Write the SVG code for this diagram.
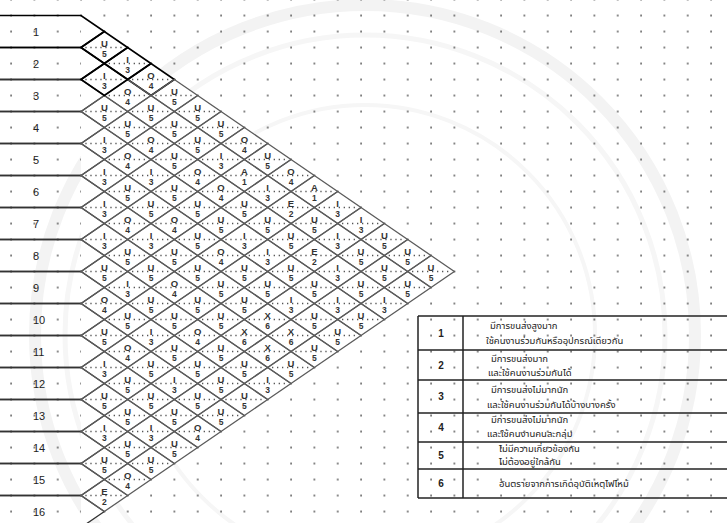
<svg xmlns="http://www.w3.org/2000/svg" xmlns:xlink="http://www.w3.org/1999/xlink" width="727" height="523" viewBox="0 0 727 523">
<style>
.row path{fill:none;stroke:#333;stroke-width:1.3}
.row.dk path{stroke:#000;stroke-width:1.7}
.row text{font-family:"Liberation Sans",Arial,sans-serif;font-size:11px;fill:#222}
.c use{stroke:#5c5c5c;stroke-width:1.3}
.c.dk use{stroke:#000;stroke-width:1.7}
.c text{font-family:"Liberation Sans",Arial,sans-serif;font-weight:bold;text-anchor:middle;fill:#333}
.c .l{font-size:9.5px}
.c .n{font-size:8.5px}
.lg line{stroke:#222;stroke-width:1.5}
.lg .num{font-family:"Liberation Sans",Arial,sans-serif;font-size:10px;font-weight:bold;text-anchor:middle;fill:#222}
.lg .th{font-family:"Noto Sans Thai","Noto Sans",sans-serif;font-size:9.5px;fill:#222}
</style>
<defs>
<pattern id="dots" x="69.333" y="7.5" width="23.333" height="16" patternUnits="userSpaceOnUse">
<rect x="11" y="7.3" width="1.5" height="1.5" fill="#333"/>
</pattern>
<g id="d">
<polygon points="-23.333,0 0,-16 23.333,0 0,16" fill="none"/>
<line x1="-19" y1="0" x2="19" y2="0" stroke="#555" stroke-width="1.3" stroke-dasharray="1.3 3.7"/>
</g>
</defs>
<rect width="727" height="523" fill="#fff"/>
<g id="watermark" fill="none">
<circle cx="365" cy="335" r="330" stroke="#f3f3f3" stroke-width="12"/>
<circle cx="365" cy="335" r="300" stroke="#f6f6f6" stroke-width="5"/>
<circle cx="365" cy="335" r="230" stroke="#f6f6f6" stroke-width="4"/>
</g>
<rect width="727" height="523" fill="url(#dots)"/>
<polygon points="81,15.5 454.33,271.5 81,527.5" fill="#fff"/>
<g id="rows">
<g id="r1" class="row dk"><path d="M0 15.5H81L104.33 31.5L81 47.5H0"/><text x="33" y="35.5">1</text></g>
<g id="r2" class="row dk"><path d="M0 47.5H81L104.33 63.5L81 79.5H0"/><text x="33" y="67.5">2</text></g>
<g id="r3" class="row"><path d="M0 79.5H81L104.33 95.5L81 111.5H0"/><text x="33" y="99.5">3</text></g>
<g id="r4" class="row"><path d="M0 111.5H81L104.33 127.5L81 143.5H0"/><text x="33" y="131.5">4</text></g>
<g id="r5" class="row"><path d="M0 143.5H81L104.33 159.5L81 175.5H0"/><text x="33" y="163.5">5</text></g>
<g id="r6" class="row"><path d="M0 175.5H81L104.33 191.5L81 207.5H0"/><text x="33" y="195.5">6</text></g>
<g id="r7" class="row"><path d="M0 207.5H81L104.33 223.5L81 239.5H0"/><text x="33" y="227.5">7</text></g>
<g id="r8" class="row"><path d="M0 239.5H81L104.33 255.5L81 271.5H0"/><text x="33" y="259.5">8</text></g>
<g id="r9" class="row"><path d="M0 271.5H81L104.33 287.5L81 303.5H0"/><text x="33" y="291.5">9</text></g>
<g id="r10" class="row"><path d="M0 303.5H81L104.33 319.5L81 335.5H0"/><text x="33" y="323.5">10</text></g>
<g id="r11" class="row"><path d="M0 335.5H81L104.33 351.5L81 367.5H0"/><text x="33" y="355.5">11</text></g>
<g id="r12" class="row"><path d="M0 367.5H81L104.33 383.5L81 399.5H0"/><text x="33" y="387.5">12</text></g>
<g id="r13" class="row"><path d="M0 399.5H81L104.33 415.5L81 431.5H0"/><text x="33" y="419.5">13</text></g>
<g id="r14" class="row"><path d="M0 431.5H81L104.33 447.5L81 463.5H0"/><text x="33" y="451.5">14</text></g>
<g id="r15" class="row"><path d="M0 463.5H81L104.33 479.5L81 495.5H0"/><text x="33" y="483.5">15</text></g>
<g id="r16" class="row"><path d="M0 495.5H81L104.33 511.5L81 527.5H0"/><text x="33" y="515.5">16</text></g>
</g>
<g id="cells">
<g id="c1-3" class="c dk" transform="translate(127.67 63.5)"><use xlink:href="#d"/><text class="l" y="-0.5">I</text><text class="n" y="9">3</text></g>
<g id="c1-4" class="c dk" transform="translate(151 79.5)"><use xlink:href="#d"/><text class="l" y="-0.5">O</text><text class="n" y="9">4</text></g>
<g id="c1-5" class="c" transform="translate(174.33 95.5)"><use xlink:href="#d"/><text class="l" y="-0.5">U</text><text class="n" y="9">5</text></g>
<g id="c1-6" class="c" transform="translate(197.67 111.5)"><use xlink:href="#d"/><text class="l" y="-0.5">U</text><text class="n" y="9">5</text></g>
<g id="c1-7" class="c" transform="translate(221 127.5)"><use xlink:href="#d"/><text class="l" y="-0.5">U</text><text class="n" y="9">5</text></g>
<g id="c1-8" class="c" transform="translate(244.33 143.5)"><use xlink:href="#d"/><text class="l" y="-0.5">O</text><text class="n" y="9">4</text></g>
<g id="c1-9" class="c" transform="translate(267.67 159.5)"><use xlink:href="#d"/><text class="l" y="-0.5">U</text><text class="n" y="9">5</text></g>
<g id="c1-10" class="c" transform="translate(291 175.5)"><use xlink:href="#d"/><text class="l" y="-0.5">O</text><text class="n" y="9">4</text></g>
<g id="c1-11" class="c" transform="translate(314.33 191.5)"><use xlink:href="#d"/><text class="l" y="-0.5">A</text><text class="n" y="9">1</text></g>
<g id="c1-12" class="c" transform="translate(337.67 207.5)"><use xlink:href="#d"/><text class="l" y="-0.5">I</text><text class="n" y="9">3</text></g>
<g id="c1-13" class="c" transform="translate(361 223.5)"><use xlink:href="#d"/><text class="l" y="-0.5">I</text><text class="n" y="9">3</text></g>
<g id="c1-14" class="c" transform="translate(384.33 239.5)"><use xlink:href="#d"/><text class="l" y="-0.5">U</text><text class="n" y="9">5</text></g>
<g id="c1-15" class="c" transform="translate(407.67 255.5)"><use xlink:href="#d"/><text class="l" y="-0.5">U</text><text class="n" y="9">5</text></g>
<g id="c1-16" class="c" transform="translate(431 271.5)"><use xlink:href="#d"/><text class="l" y="-0.5">U</text><text class="n" y="9">5</text></g>
<g id="c2-4" class="c" transform="translate(127.67 95.5)"><use xlink:href="#d"/><text class="l" y="-0.5">O</text><text class="n" y="9">4</text></g>
<g id="c2-5" class="c" transform="translate(151 111.5)"><use xlink:href="#d"/><text class="l" y="-0.5">U</text><text class="n" y="9">5</text></g>
<g id="c2-6" class="c" transform="translate(174.33 127.5)"><use xlink:href="#d"/><text class="l" y="-0.5">U</text><text class="n" y="9">5</text></g>
<g id="c2-7" class="c" transform="translate(197.67 143.5)"><use xlink:href="#d"/><text class="l" y="-0.5">U</text><text class="n" y="9">5</text></g>
<g id="c2-8" class="c" transform="translate(221 159.5)"><use xlink:href="#d"/><text class="l" y="-0.5">I</text><text class="n" y="9">3</text></g>
<g id="c2-9" class="c" transform="translate(244.33 175.5)"><use xlink:href="#d"/><text class="l" y="-0.5">A</text><text class="n" y="9">1</text></g>
<g id="c2-10" class="c" transform="translate(267.67 191.5)"><use xlink:href="#d"/><text class="l" y="-0.5">I</text><text class="n" y="9">3</text></g>
<g id="c2-11" class="c" transform="translate(291 207.5)"><use xlink:href="#d"/><text class="l" y="-0.5">E</text><text class="n" y="9">2</text></g>
<g id="c2-12" class="c" transform="translate(314.33 223.5)"><use xlink:href="#d"/><text class="l" y="-0.5">U</text><text class="n" y="9">5</text></g>
<g id="c2-13" class="c" transform="translate(337.67 239.5)"><use xlink:href="#d"/><text class="l" y="-0.5">I</text><text class="n" y="9">3</text></g>
<g id="c2-14" class="c" transform="translate(361 255.5)"><use xlink:href="#d"/><text class="l" y="-0.5">U</text><text class="n" y="9">5</text></g>
<g id="c2-15" class="c" transform="translate(384.33 271.5)"><use xlink:href="#d"/><text class="l" y="-0.5">U</text><text class="n" y="9">5</text></g>
<g id="c2-16" class="c" transform="translate(407.67 287.5)"><use xlink:href="#d"/><text class="l" y="-0.5">U</text><text class="n" y="9">5</text></g>
<g id="c3-4" class="c" transform="translate(104.33 111.5)"><use xlink:href="#d"/><text class="l" y="-0.5">U</text><text class="n" y="9">5</text></g>
<g id="c3-5" class="c" transform="translate(127.67 127.5)"><use xlink:href="#d"/><text class="l" y="-0.5">U</text><text class="n" y="9">5</text></g>
<g id="c3-6" class="c" transform="translate(151 143.5)"><use xlink:href="#d"/><text class="l" y="-0.5">O</text><text class="n" y="9">4</text></g>
<g id="c3-7" class="c" transform="translate(174.33 159.5)"><use xlink:href="#d"/><text class="l" y="-0.5">U</text><text class="n" y="9">5</text></g>
<g id="c3-8" class="c" transform="translate(197.67 175.5)"><use xlink:href="#d"/><text class="l" y="-0.5">O</text><text class="n" y="9">4</text></g>
<g id="c3-9" class="c" transform="translate(221 191.5)"><use xlink:href="#d"/><text class="l" y="-0.5">O</text><text class="n" y="9">4</text></g>
<g id="c3-10" class="c" transform="translate(244.33 207.5)"><use xlink:href="#d"/><text class="l" y="-0.5">U</text><text class="n" y="9">5</text></g>
<g id="c3-11" class="c" transform="translate(267.67 223.5)"><use xlink:href="#d"/><text class="l" y="-0.5">U</text><text class="n" y="9">5</text></g>
<g id="c3-12" class="c" transform="translate(291 239.5)"><use xlink:href="#d"/><text class="l" y="-0.5">U</text><text class="n" y="9">5</text></g>
<g id="c3-13" class="c" transform="translate(314.33 255.5)"><use xlink:href="#d"/><text class="l" y="-0.5">E</text><text class="n" y="9">2</text></g>
<g id="c3-14" class="c" transform="translate(337.67 271.5)"><use xlink:href="#d"/><text class="l" y="-0.5">I</text><text class="n" y="9">3</text></g>
<g id="c3-15" class="c" transform="translate(361 287.5)"><use xlink:href="#d"/><text class="l" y="-0.5">U</text><text class="n" y="9">5</text></g>
<g id="c3-16" class="c" transform="translate(384.33 303.5)"><use xlink:href="#d"/><text class="l" y="-0.5">I</text><text class="n" y="9">3</text></g>
<g id="c4-5" class="c" transform="translate(104.33 143.5)"><use xlink:href="#d"/><text class="l" y="-0.5">I</text><text class="n" y="9">3</text></g>
<g id="c4-6" class="c" transform="translate(127.67 159.5)"><use xlink:href="#d"/><text class="l" y="-0.5">O</text><text class="n" y="9">4</text></g>
<g id="c4-7" class="c" transform="translate(151 175.5)"><use xlink:href="#d"/><text class="l" y="-0.5">I</text><text class="n" y="9">3</text></g>
<g id="c4-8" class="c" transform="translate(174.33 191.5)"><use xlink:href="#d"/><text class="l" y="-0.5">U</text><text class="n" y="9">5</text></g>
<g id="c4-9" class="c" transform="translate(197.67 207.5)"><use xlink:href="#d"/><text class="l" y="-0.5">U</text><text class="n" y="9">5</text></g>
<g id="c4-10" class="c" transform="translate(221 223.5)"><use xlink:href="#d"/><text class="l" y="-0.5">U</text><text class="n" y="9">5</text></g>
<g id="c4-11" class="c" transform="translate(244.33 239.5)"><use xlink:href="#d"/><text class="l" y="-0.5">I</text><text class="n" y="9">3</text></g>
<g id="c4-12" class="c" transform="translate(267.67 255.5)"><use xlink:href="#d"/><text class="l" y="-0.5">I</text><text class="n" y="9">3</text></g>
<g id="c4-13" class="c" transform="translate(291 271.5)"><use xlink:href="#d"/><text class="l" y="-0.5">U</text><text class="n" y="9">5</text></g>
<g id="c4-14" class="c" transform="translate(314.33 287.5)"><use xlink:href="#d"/><text class="l" y="-0.5">U</text><text class="n" y="9">5</text></g>
<g id="c4-15" class="c" transform="translate(337.67 303.5)"><use xlink:href="#d"/><text class="l" y="-0.5">I</text><text class="n" y="9">3</text></g>
<g id="c4-16" class="c" transform="translate(361 319.5)"><use xlink:href="#d"/><text class="l" y="-0.5">U</text><text class="n" y="9">5</text></g>
<g id="c5-6" class="c" transform="translate(104.33 175.5)"><use xlink:href="#d"/><text class="l" y="-0.5">I</text><text class="n" y="9">3</text></g>
<g id="c5-7" class="c" transform="translate(127.67 191.5)"><use xlink:href="#d"/><text class="l" y="-0.5">U</text><text class="n" y="9">5</text></g>
<g id="c5-8" class="c" transform="translate(151 207.5)"><use xlink:href="#d"/><text class="l" y="-0.5">U</text><text class="n" y="9">5</text></g>
<g id="c5-9" class="c" transform="translate(174.33 223.5)"><use xlink:href="#d"/><text class="l" y="-0.5">O</text><text class="n" y="9">4</text></g>
<g id="c5-10" class="c" transform="translate(197.67 239.5)"><use xlink:href="#d"/><text class="l" y="-0.5">U</text><text class="n" y="9">5</text></g>
<g id="c5-11" class="c" transform="translate(221 255.5)"><use xlink:href="#d"/><text class="l" y="-0.5">O</text><text class="n" y="9">4</text></g>
<g id="c5-12" class="c" transform="translate(244.33 271.5)"><use xlink:href="#d"/><text class="l" y="-0.5">U</text><text class="n" y="9">5</text></g>
<g id="c5-13" class="c" transform="translate(267.67 287.5)"><use xlink:href="#d"/><text class="l" y="-0.5">U</text><text class="n" y="9">5</text></g>
<g id="c5-14" class="c" transform="translate(291 303.5)"><use xlink:href="#d"/><text class="l" y="-0.5">I</text><text class="n" y="9">3</text></g>
<g id="c5-15" class="c" transform="translate(314.33 319.5)"><use xlink:href="#d"/><text class="l" y="-0.5">U</text><text class="n" y="9">5</text></g>
<g id="c5-16" class="c" transform="translate(337.67 335.5)"><use xlink:href="#d"/><text class="l" y="-0.5">U</text><text class="n" y="9">5</text></g>
<g id="c6-7" class="c" transform="translate(104.33 207.5)"><use xlink:href="#d"/><text class="l" y="-0.5">I</text><text class="n" y="9">3</text></g>
<g id="c6-8" class="c" transform="translate(127.67 223.5)"><use xlink:href="#d"/><text class="l" y="-0.5">O</text><text class="n" y="9">4</text></g>
<g id="c6-9" class="c" transform="translate(151 239.5)"><use xlink:href="#d"/><text class="l" y="-0.5">I</text><text class="n" y="9">3</text></g>
<g id="c6-10" class="c" transform="translate(174.33 255.5)"><use xlink:href="#d"/><text class="l" y="-0.5">U</text><text class="n" y="9">5</text></g>
<g id="c6-11" class="c" transform="translate(197.67 271.5)"><use xlink:href="#d"/><text class="l" y="-0.5">U</text><text class="n" y="9">5</text></g>
<g id="c6-12" class="c" transform="translate(221 287.5)"><use xlink:href="#d"/><text class="l" y="-0.5">U</text><text class="n" y="9">5</text></g>
<g id="c6-13" class="c" transform="translate(244.33 303.5)"><use xlink:href="#d"/><text class="l" y="-0.5">U</text><text class="n" y="9">5</text></g>
<g id="c6-14" class="c" transform="translate(267.67 319.5)"><use xlink:href="#d"/><text class="l" y="-0.5">X</text><text class="n" y="9">6</text></g>
<g id="c6-15" class="c" transform="translate(291 335.5)"><use xlink:href="#d"/><text class="l" y="-0.5">X</text><text class="n" y="9">6</text></g>
<g id="c6-16" class="c" transform="translate(314.33 351.5)"><use xlink:href="#d"/><text class="l" y="-0.5">U</text><text class="n" y="9">5</text></g>
<g id="c7-8" class="c" transform="translate(104.33 239.5)"><use xlink:href="#d"/><text class="l" y="-0.5">I</text><text class="n" y="9">3</text></g>
<g id="c7-9" class="c" transform="translate(127.67 255.5)"><use xlink:href="#d"/><text class="l" y="-0.5">U</text><text class="n" y="9">5</text></g>
<g id="c7-10" class="c" transform="translate(151 271.5)"><use xlink:href="#d"/><text class="l" y="-0.5">U</text><text class="n" y="9">5</text></g>
<g id="c7-11" class="c" transform="translate(174.33 287.5)"><use xlink:href="#d"/><text class="l" y="-0.5">O</text><text class="n" y="9">4</text></g>
<g id="c7-12" class="c" transform="translate(197.67 303.5)"><use xlink:href="#d"/><text class="l" y="-0.5">U</text><text class="n" y="9">5</text></g>
<g id="c7-13" class="c" transform="translate(221 319.5)"><use xlink:href="#d"/><text class="l" y="-0.5">U</text><text class="n" y="9">5</text></g>
<g id="c7-14" class="c" transform="translate(244.33 335.5)"><use xlink:href="#d"/><text class="l" y="-0.5">X</text><text class="n" y="9">6</text></g>
<g id="c7-15" class="c" transform="translate(267.67 351.5)"><use xlink:href="#d"/><text class="l" y="-0.5">X</text><text class="n" y="9">6</text></g>
<g id="c7-16" class="c" transform="translate(291 367.5)"><use xlink:href="#d"/><text class="l" y="-0.5">U</text><text class="n" y="9">5</text></g>
<g id="c8-9" class="c" transform="translate(104.33 271.5)"><use xlink:href="#d"/><text class="l" y="-0.5">U</text><text class="n" y="9">5</text></g>
<g id="c8-10" class="c" transform="translate(127.67 287.5)"><use xlink:href="#d"/><text class="l" y="-0.5">I</text><text class="n" y="9">3</text></g>
<g id="c8-11" class="c" transform="translate(151 303.5)"><use xlink:href="#d"/><text class="l" y="-0.5">U</text><text class="n" y="9">5</text></g>
<g id="c8-12" class="c" transform="translate(174.33 319.5)"><use xlink:href="#d"/><text class="l" y="-0.5">U</text><text class="n" y="9">5</text></g>
<g id="c8-13" class="c" transform="translate(197.67 335.5)"><use xlink:href="#d"/><text class="l" y="-0.5">O</text><text class="n" y="9">4</text></g>
<g id="c8-14" class="c" transform="translate(221 351.5)"><use xlink:href="#d"/><text class="l" y="-0.5">U</text><text class="n" y="9">5</text></g>
<g id="c8-15" class="c" transform="translate(244.33 367.5)"><use xlink:href="#d"/><text class="l" y="-0.5">U</text><text class="n" y="9">5</text></g>
<g id="c8-16" class="c" transform="translate(267.67 383.5)"><use xlink:href="#d"/><text class="l" y="-0.5">I</text><text class="n" y="9">3</text></g>
<g id="c9-10" class="c" transform="translate(104.33 303.5)"><use xlink:href="#d"/><text class="l" y="-0.5">O</text><text class="n" y="9">4</text></g>
<g id="c9-11" class="c" transform="translate(127.67 319.5)"><use xlink:href="#d"/><text class="l" y="-0.5">U</text><text class="n" y="9">5</text></g>
<g id="c9-12" class="c" transform="translate(151 335.5)"><use xlink:href="#d"/><text class="l" y="-0.5">I</text><text class="n" y="9">3</text></g>
<g id="c9-13" class="c" transform="translate(174.33 351.5)"><use xlink:href="#d"/><text class="l" y="-0.5">U</text><text class="n" y="9">5</text></g>
<g id="c9-14" class="c" transform="translate(197.67 367.5)"><use xlink:href="#d"/><text class="l" y="-0.5">U</text><text class="n" y="9">5</text></g>
<g id="c9-15" class="c" transform="translate(221 383.5)"><use xlink:href="#d"/><text class="l" y="-0.5">U</text><text class="n" y="9">5</text></g>
<g id="c9-16" class="c" transform="translate(244.33 399.5)"><use xlink:href="#d"/><text class="l" y="-0.5">U</text><text class="n" y="9">5</text></g>
<g id="c10-11" class="c" transform="translate(104.33 335.5)"><use xlink:href="#d"/><text class="l" y="-0.5">U</text><text class="n" y="9">5</text></g>
<g id="c10-12" class="c" transform="translate(127.67 351.5)"><use xlink:href="#d"/><text class="l" y="-0.5">O</text><text class="n" y="9">4</text></g>
<g id="c10-13" class="c" transform="translate(151 367.5)"><use xlink:href="#d"/><text class="l" y="-0.5">U</text><text class="n" y="9">5</text></g>
<g id="c10-14" class="c" transform="translate(174.33 383.5)"><use xlink:href="#d"/><text class="l" y="-0.5">I</text><text class="n" y="9">3</text></g>
<g id="c10-15" class="c" transform="translate(197.67 399.5)"><use xlink:href="#d"/><text class="l" y="-0.5">U</text><text class="n" y="9">5</text></g>
<g id="c10-16" class="c" transform="translate(221 415.5)"><use xlink:href="#d"/><text class="l" y="-0.5">U</text><text class="n" y="9">5</text></g>
<g id="c11-12" class="c" transform="translate(104.33 367.5)"><use xlink:href="#d"/><text class="l" y="-0.5">I</text><text class="n" y="9">3</text></g>
<g id="c11-13" class="c" transform="translate(127.67 383.5)"><use xlink:href="#d"/><text class="l" y="-0.5">U</text><text class="n" y="9">5</text></g>
<g id="c11-14" class="c" transform="translate(151 399.5)"><use xlink:href="#d"/><text class="l" y="-0.5">U</text><text class="n" y="9">5</text></g>
<g id="c11-15" class="c" transform="translate(174.33 415.5)"><use xlink:href="#d"/><text class="l" y="-0.5">U</text><text class="n" y="9">5</text></g>
<g id="c11-16" class="c" transform="translate(197.67 431.5)"><use xlink:href="#d"/><text class="l" y="-0.5">O</text><text class="n" y="9">4</text></g>
<g id="c12-13" class="c" transform="translate(104.33 399.5)"><use xlink:href="#d"/><text class="l" y="-0.5">U</text><text class="n" y="9">5</text></g>
<g id="c12-14" class="c" transform="translate(127.67 415.5)"><use xlink:href="#d"/><text class="l" y="-0.5">U</text><text class="n" y="9">5</text></g>
<g id="c12-15" class="c" transform="translate(151 431.5)"><use xlink:href="#d"/><text class="l" y="-0.5">I</text><text class="n" y="9">3</text></g>
<g id="c12-16" class="c" transform="translate(174.33 447.5)"><use xlink:href="#d"/><text class="l" y="-0.5">U</text><text class="n" y="9">5</text></g>
<g id="c13-14" class="c" transform="translate(104.33 431.5)"><use xlink:href="#d"/><text class="l" y="-0.5">I</text><text class="n" y="9">3</text></g>
<g id="c13-15" class="c" transform="translate(127.67 447.5)"><use xlink:href="#d"/><text class="l" y="-0.5">U</text><text class="n" y="9">5</text></g>
<g id="c13-16" class="c" transform="translate(151 463.5)"><use xlink:href="#d"/><text class="l" y="-0.5">U</text><text class="n" y="9">5</text></g>
<g id="c14-15" class="c" transform="translate(104.33 463.5)"><use xlink:href="#d"/><text class="l" y="-0.5">U</text><text class="n" y="9">5</text></g>
<g id="c14-16" class="c" transform="translate(127.67 479.5)"><use xlink:href="#d"/><text class="l" y="-0.5">O</text><text class="n" y="9">4</text></g>
<g id="c15-16" class="c" transform="translate(104.33 495.5)"><use xlink:href="#d"/><text class="l" y="-0.5">E</text><text class="n" y="9">2</text></g>
<g id="c1-2" class="c dk" transform="translate(104.33 47.5)"><use xlink:href="#d"/><text class="l" y="-0.5">U</text><text class="n" y="9">5</text></g>
<g id="c2-3" class="c dk" transform="translate(104.33 79.5)"><use xlink:href="#d"/><text class="l" y="-0.5">I</text><text class="n" y="9">3</text></g>
</g>
<g id="legend" class="lg">
<line x1="418" y1="316" x2="727" y2="316"/>
<line x1="418" y1="350" x2="727" y2="350"/>
<line x1="418" y1="380" x2="727" y2="380"/>
<line x1="418" y1="413" x2="727" y2="413"/>
<line x1="418" y1="442" x2="727" y2="442"/>
<line x1="418" y1="469" x2="727" y2="469"/>
<line x1="418" y1="498" x2="727" y2="498"/>
<line x1="418" y1="316" x2="418" y2="498"/>
<line x1="463" y1="316" x2="463" y2="498"/>
<text class="num" x="441" y="337">1</text>
<text class="num" x="441" y="369">2</text>
<text class="num" x="441" y="400">3</text>
<text class="num" x="441" y="431">4</text>
<text class="num" x="441" y="459">5</text>
<text class="num" x="441" y="487">6</text>
<text class="th" x="490" y="329">มีการขนส่งสูงมาก</text>
<text class="th" x="486" y="344">ใช้คนงานร่วมกันหรืออุปกรณ์เดียวกัน</text>
<text class="th" x="491" y="362">มีการขนส่งมาก</text>
<text class="th" x="488" y="376">และใช้คนงานร่วมกันได้</text>
<text class="th" x="491" y="393">มีการขนส่งไม่มากนัก</text>
<text class="th" x="487" y="408">และใช้คนงานร่วมกันได้บ้างบางครั้ง</text>
<text class="th" x="491" y="423">มีการขนส่งไม่มากนัก</text>
<text class="th" x="487" y="437">และใช้คนงานคนละกลุ่ม</text>
<text class="th" x="499" y="452">ไม่มีความเกี่ยวข้องกัน</text>
<text class="th" x="499" y="465">ไม่ต้องอยู่ใกล้กัน</text>
<text class="th" x="499" y="487">อันตรายจากการเกิดอุบัติเหตุไฟไหม้</text>
</g>
</svg>
